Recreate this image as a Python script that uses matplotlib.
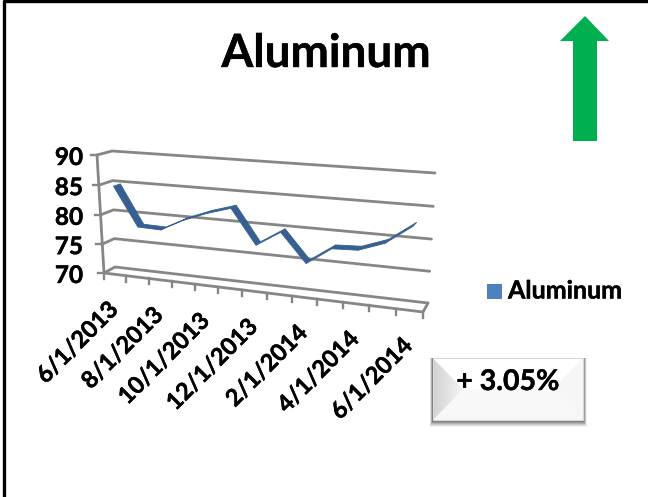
import numpy as np
import matplotlib
matplotlib.use("Agg")
import matplotlib.pyplot as plt
import matplotlib.patheffects as pe
from matplotlib.colors import LinearSegmentedColormap

plt.rcParams['font.family'] = ['Lato', 'DejaVu Sans']
plt.rcParams['font.weight'] = 'bold'

months = ["6/1/2013", "7/1/2013", "8/1/2013", "9/1/2013", "10/1/2013", "11/1/2013", "12/1/2013",
          "1/1/2014", "2/1/2014", "3/1/2014", "4/1/2014", "5/1/2014", "6/1/2014"]
prices = [84.8, 78.3, 78.2, 80.2, 81.7, 82.9, 77.3, 79.8, 75.2, 78.0, 78.2, 79.7, 82.7]
y_ticks = [70, 75, 80, 85, 90]

GREY = "#868686"
RIBBON = "#376092"
# Calibri Bold is not installed, a thin stroke brings Lato Bold to the same colour
HEAVY = [pe.withStroke(linewidth=0.3, foreground="black")]


def homography(corners):
    # corners are the picture positions of (0,70) (13,70) (13,90) (0,90)
    src = [(0, 70), (13, 70), (13, 90), (0, 90)]
    rows, rhs = [], []
    for (x, y), (px, py) in zip(src, corners):
        rows.append([x, y, 1, 0, 0, 0, -px * x, -px * y])
        rows.append([0, 0, 0, x, y, 1, -py * x, -py * y])
        rhs += [px, py]
    return np.append(np.linalg.solve(np.array(rows, float), np.array(rhs, float)), 1).reshape(3, 3)


front = homography([(104, 273), (423, 312), (426, 181), (97, 155)])
back = homography([(115, 267), (428, 303), (435, 173), (112, 151)])


def apply(h, x, v):
    p = h @ np.array([x, v, 1.0])
    return p[:2] / p[2]


def project(x, v, depth=0.0):
    return (1 - depth) * apply(front, x, v) + depth * apply(back, x, v)


def line3d(ax, pts, **kw):
    xy = np.array([project(*p) for p in pts])
    ax.plot(xy[:, 0], xy[:, 1], color=GREY, solid_capstyle="round", **kw)


fig = plt.figure(figsize=(6.48, 4.97), dpi=100)
ax = fig.add_axes([0, 0, 1, 1])
ax.set_xlim(0, 648)
ax.set_ylim(497, 0)
ax.axis("off")

# outer frame, only partly inside the crop
ax.plot([3.5, 3.5, 648], [497, 1, 1], color="black", lw=2.4)

# walls and floor
for v in y_ticks:
    line3d(ax, [(0, v, 0), (0, v, 1), (13, v, 1)], lw=2)
    s = project(0, v, 0)
    ax.plot([s[0] - 6, s[0]], [s[1], s[1]], color=GREY, lw=1.7)
    ax.text(s[0] - 21 + (v - 70) * 0.35, s[1] + 2.5, str(v), ha="right", va="center",
            fontsize=17.5, color="black", path_effects=HEAVY)
line3d(ax, [(0, 70, 0), (0, 90, 0)], lw=2)
line3d(ax, [(0, 70, 0), (13, 70, 0), (13, 70, 1)], lw=2)
for i in range(14):
    s = project(i, 70, 0)
    ax.plot([s[0], s[0]], [s[1], s[1] + 6], color=GREY, lw=1.7)
    if i % 2 == 0 and i < 13:
        c = project(i + 0.5, 70, 0)
        ax.text(c[0] - 9, c[1] + 23, months[i], rotation=45, rotation_mode="anchor",
                ha="right", va="top", fontsize=17, color="black", path_effects=HEAVY)

# the series is a flat ribbon standing in the middle of the depth
for i in range(len(prices) - 1):
    a0 = project(i + 0.5, prices[i], 0.25)
    b0 = project(i + 1.5, prices[i + 1], 0.25)
    b1 = project(i + 1.5, prices[i + 1], 0.75)
    a1 = project(i + 0.5, prices[i], 0.75)
    quad = np.array([a0, b0, b1, a1])
    ax.fill(quad[:, 0], quad[:, 1], color=RIBBON, lw=0.6, zorder=3)

ax.text(326, 54, "Aluminum", ha="center", va="center", fontsize=33, color="black", path_effects=HEAVY)

# legend
ax.fill([487, 502, 502, 487], [284, 284, 299, 299], color="#4F81BD", lw=0)
ax.text(508, 291, "Aluminum", ha="left", va="center", fontsize=18, color="black", path_effects=HEAVY)

# arrow
ax.fill([585, 609, 597, 597, 573, 573, 560], [16, 41, 41, 141, 141, 41, 41], color="#00B050", lw=0)

# bevelled box
x0, x1, y0, y1 = 433, 583, 358, 420
for k, alpha in zip(range(7, 0, -1), [0.05, 0.07, 0.09, 0.12, 0.14, 0.16, 0.18]):
    ax.fill([x0 - k / 2, x1 + k / 2, x1 + k / 2, x0 - k / 2], [y0, y0, y1 + k, y1 + k],
            color="black", alpha=alpha, lw=0, zorder=4)
ax.fill([x0, x1, x1, x0], [y0, y0, y1, y1], color="#F8F8F8", lw=0, zorder=5)
grad = LinearSegmentedColormap.from_list("bevel", ["#D2D2D2", "#F4F4F4"])
im = ax.imshow(np.linspace(0, 1, 40).reshape(1, -1), cmap=grad, extent=[x0, x0 + 30, y1, y0],
               aspect="auto", zorder=6)
tri = ax.fill([x0, x0 + 30, x0], [y0, y0 + 31, y1], color="none", lw=0, zorder=6)[0]
im.set_clip_path(tri)
ax.fill([x0, x1, x1 - 30, x0 + 30], [y0, y0, y0 + 31, y0 + 31], color="#FFFFFF", lw=0, zorder=6)
ax.fill([x1, x1, x1 - 30], [y0, y1, y0 + 31], color="#F6F6F6", lw=0, zorder=6)
ax.plot([x0, x1, x1, x0, x0], [y0, y0, y1, y1, y0], color="#D8D8D8", lw=0.8, zorder=7)
ax.set_xlim(0, 648)
ax.set_ylim(497, 0)
ax.text(508, 382, "+ 3.05%", ha="center", va="center", fontsize=20.5, color="black", zorder=8, path_effects=HEAVY)

fig.savefig("out.png", dpi=100)
